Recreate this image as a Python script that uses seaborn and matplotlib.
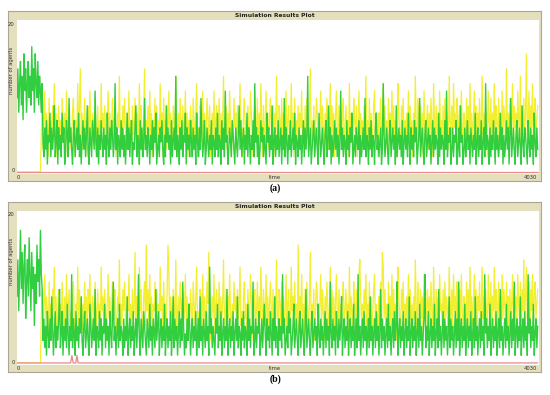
import numpy as np
import pandas as pd
import matplotlib
matplotlib.use("Agg")
import matplotlib.pyplot as plt
import seaborn as sns

t_max = 4030

green_a = [10, 14, 8, 12, 15, 9, 13, 7, 16, 11, 14, 8, 12, 15, 10, 13, 9, 17, 11, 14, 8, 16, 12, 10, 15,
           9, 13, 11, 8, 12, 4, 2, 6, 3, 7, 1, 5, 4, 8, 2, 6, 3, 5, 9, 2, 4, 7, 1, 6, 3,
           5, 2, 8, 4, 6, 1, 3, 7, 5, 2, 10, 4, 6, 3, 1, 5, 7, 2, 4, 6, 3, 8, 2, 5, 1,
           4, 7, 3, 6, 2, 5, 9, 3, 1, 6, 4, 2, 7, 5, 3, 11, 4, 2, 6, 1, 5, 3, 7, 4, 2,
           6, 3, 5, 1, 8, 4, 2, 6, 3, 7, 5, 2, 4, 12, 3, 6, 1, 5, 4, 2, 7, 3, 6, 2, 5,
           1, 4, 8, 3, 6, 2, 5, 7, 1, 4, 3, 6, 9, 2, 5, 4, 1, 7, 3, 6, 2, 4, 10, 3, 5,
           2, 6, 4, 1, 5, 3, 7, 2, 6, 4, 8, 1, 3, 5, 2, 6, 4, 7, 3, 1, 5, 2, 9, 4, 6,
           3, 5, 1, 7, 2, 4, 6, 3, 13, 2, 5, 4, 1, 6, 3, 7, 2, 5, 4, 8, 1, 6, 3, 5, 2,
           7, 4, 2, 6, 3, 5, 1, 8, 4, 2, 6, 3, 10, 5, 2, 4, 7, 1, 3, 6, 4, 2, 5, 3, 7,
           1, 5, 4, 2, 6, 3, 8, 2, 5, 4, 1, 7, 3, 6, 2, 11, 4, 5, 1, 3, 6, 4, 2, 7, 5,
           3, 1, 6, 4, 2, 5, 9, 3, 7, 2, 4, 6, 1, 5, 3, 8, 2, 6, 4, 1, 5, 3, 7, 2, 12,
           4, 6, 2, 5, 1, 3, 7, 4, 6, 2, 5, 3, 1, 8, 4, 6, 2, 5, 3, 9, 1, 4, 6, 2, 5,
           3, 7, 2, 4, 6, 1, 5, 3, 10, 2, 6, 4, 1, 5, 3, 7, 2, 4, 6, 3, 8, 1, 5, 4, 2,
           6, 3, 5, 1, 4, 7, 2, 6, 3, 5, 13, 2, 4, 6, 1, 3, 5, 7, 2, 4, 6, 3, 1, 8, 5,
           2, 4, 6, 3, 1, 5, 7, 2, 4, 9, 3, 6, 1, 5, 2, 4, 7, 3, 6, 2, 5, 1, 4, 11, 3,
           6, 2, 5, 4, 1, 7, 3, 5, 2, 6, 4, 8, 1, 3, 5, 2, 6, 4, 3, 7, 1, 5, 2, 4, 6,
           3, 10, 2, 5, 4, 1, 6, 3, 7, 2, 5, 4, 1, 6, 8, 3, 5, 2, 4, 6, 1, 3, 12, 5, 2,
           4, 6, 3, 1, 5, 7, 2, 4, 6, 3, 5, 1, 9, 2, 4, 6, 3, 5, 2, 7, 1, 4, 6, 3, 5,
           2, 8, 4, 1, 6, 3, 5, 2, 7, 4, 6, 1, 3, 5, 10, 2, 4, 6, 3, 1, 5, 7, 2, 4, 6,
           3, 5, 1, 4, 7, 2, 6, 3, 5, 4, 1, 8, 2, 6, 3, 5, 4, 1, 7, 3, 11, 2, 5, 4, 6,
           1, 3, 6, 2, 5, 4, 7, 1, 3, 6, 2, 9, 4, 5, 1, 3, 6, 2, 4, 7, 3, 5, 1, 6, 4,
           2, 5, 3, 8, 1, 4, 6, 2, 5, 3, 7, 1, 4, 6, 2, 12, 3, 5, 4, 1, 6, 2, 5, 3, 7,
           4, 1, 6, 3, 5, 2, 4, 8, 3, 6, 1, 5, 2, 4, 7, 3, 6, 1, 5, 10, 2, 4, 6, 3, 1,
           5, 7, 2, 4, 6, 3, 1, 9, 4, 2, 6, 5, 3, 1, 7, 4, 2, 6, 3, 5, 1, 8, 4, 2, 6,
           3]

yellow_a = [0, 0, 0, 0, 0, 0, 0, 0, 0, 0, 0, 0, 0, 0, 0, 0, 0, 0, 0, 0, 0, 0, 0, 0, 0,
            0, 0, 0, 5, 9, 3, 7, 11, 4, 8, 6, 2, 10, 5, 7, 3, 9, 6, 12, 4, 8, 2, 6, 9, 5,
            7, 3, 10, 6, 4, 8, 2, 11, 5, 7, 9, 3, 6, 4, 8, 10, 5, 2, 7, 6, 12, 4, 9, 14, 5,
            8, 3, 6, 10, 4, 7, 2, 9, 5, 11, 6, 3, 8, 7, 4, 10, 2, 6, 9, 5, 7, 3, 12, 6, 8,
            4, 9, 6, 2, 7, 11, 5, 8, 3, 6, 10, 4, 7, 9, 2, 5, 8, 6, 13, 3, 7, 4, 9, 6, 10,
            5, 3, 8, 6, 11, 4, 7, 2, 9, 5, 6, 10, 3, 8, 7, 4, 12, 6, 9, 2, 5, 8, 14, 3, 7,
            6, 9, 4, 11, 5, 8, 2, 7, 6, 10, 3, 9, 5, 7, 4, 12, 6, 8, 2, 10, 5, 7, 3, 9, 6,
            11, 4, 8, 6, 3, 9, 7, 5, 13, 2, 6, 8, 4, 10, 7, 3, 9, 5, 6, 11, 4, 8, 2, 7, 5,
            9, 6, 3, 10, 7, 4, 8, 12, 5, 6, 2, 9, 7, 4, 11, 5, 8, 3, 6, 10, 7, 4, 9, 2, 6,
            8, 5, 11, 3, 7, 9, 4, 6, 10, 2, 8, 5, 7, 13, 4, 6, 9, 3, 8, 5, 11, 6, 2, 7, 4,
            10, 6, 8, 3, 9, 5, 7, 12, 4, 6, 2, 8, 10, 5, 7, 3, 9, 6, 4, 11, 8, 5, 2, 7, 9,
            4, 6, 10, 3, 8, 5, 12, 7, 2, 9, 6, 4, 11, 5, 8, 3, 7, 10, 6, 4, 9, 2, 8, 5, 13,
            6, 3, 9, 7, 4, 10, 5, 8, 2, 6, 11, 4, 7, 9, 3, 5, 12, 6, 8, 2, 10, 4, 7, 5, 9,
            3, 8, 6, 11, 4, 7, 2, 9, 5, 10, 6, 3, 8, 14, 4, 7, 5, 9, 2, 6, 10, 8, 3, 5, 7,
            11, 4, 9, 6, 2, 8, 5, 10, 7, 3, 6, 12, 4, 9, 5, 8, 2, 7, 11, 6, 3, 9, 5, 7, 4,
            8, 10, 3, 6, 9, 5, 7, 2, 12, 4, 8, 6, 3, 10, 7, 5, 9, 2, 6, 11, 4, 8, 5, 7, 3,
            9, 6, 13, 4, 7, 2, 10, 5, 8, 3, 6, 9, 11, 4, 7, 5, 2, 8, 6, 10, 3, 7, 12, 5, 9,
            4, 7, 2, 10, 6, 8, 3, 11, 5, 9, 4, 7, 6, 2, 12, 8, 5, 3, 9, 6, 10, 4, 7, 5, 8,
            3, 11, 6, 9, 4, 7, 2, 8, 5, 13, 6, 3, 10, 7, 4, 9, 5, 8, 2, 11, 6, 4, 7, 9, 3,
            8, 5, 10, 6, 2, 12, 7, 4, 9, 5, 8, 3, 11, 6, 7, 4, 9, 2, 10, 5, 8, 6, 3, 13, 7,
            5, 9, 4, 12, 6, 8, 2, 10, 7, 3, 9, 5, 11, 6, 4, 8, 7, 2, 10, 5, 9, 3, 12, 6, 8,
            4, 7, 11, 5, 9, 2, 8, 6, 10, 3, 7, 13, 5, 8, 4, 9, 6, 2, 11, 7, 5, 10, 3, 8, 6,
            12, 4, 9, 7, 2, 10, 6, 8, 3, 11, 5, 9, 7, 4, 14, 6, 8, 2, 10, 5, 7, 12, 3, 9, 6,
            8, 4, 11, 7, 5, 13, 3, 9, 6, 10, 4, 8, 16, 5, 7, 11, 3, 9, 6, 12, 4, 8, 10, 5, 7,
            9]

green_b = [9, 14, 7, 12, 18, 10, 15, 8, 13, 16, 6, 11, 14, 9, 17, 12, 7, 15, 10, 13, 5, 12, 8, 16, 11,
           14, 9, 18, 12, 10, 3, 6, 2, 5, 1, 7, 4, 2, 6, 3, 9, 5, 1, 4, 7, 2, 5, 3, 6, 10,
           2, 4, 7, 1, 5, 3, 6, 2, 8, 4, 1, 5, 3, 12, 2, 6, 4, 1, 7, 3, 5, 2, 6, 4, 9,
           3, 1, 5, 7, 2, 4, 6, 3, 1, 8, 5, 2, 4, 6, 3, 10, 1, 5, 4, 2, 7, 3, 6, 1, 5,
           4, 8, 2, 6, 3, 5, 1, 7, 4, 2, 6, 11, 3, 5, 1, 4, 6, 2, 8, 3, 5, 4, 1, 6, 2,
           5, 3, 9, 1, 4, 6, 2, 5, 3, 7, 1, 4, 6, 2, 5, 12, 3, 1, 6, 4, 2, 7, 5, 3, 1,
           6, 4, 2, 8, 3, 5, 1, 6, 4, 2, 10, 3, 5, 7, 1, 4, 6, 2, 5, 3, 8, 1, 4, 6, 2,
           5, 3, 7, 1, 4, 9, 2, 6, 3, 5, 1, 4, 7, 2, 6, 3, 11, 5, 1, 4, 2, 6, 3, 8, 5,
           1, 4, 6, 2, 5, 3, 7, 1, 4, 6, 2, 9, 3, 5, 1, 6, 4, 2, 7, 3, 5, 1, 13, 4, 6,
           2, 5, 3, 1, 6, 4, 8, 2, 5, 3, 7, 1, 4, 6, 2, 5, 3, 10, 1, 4, 6, 2, 5, 3, 7,
           1, 4, 6, 3, 9, 2, 5, 4, 1, 6, 3, 7, 2, 5, 4, 1, 8, 3, 6, 2, 5, 4, 11, 1, 3,
           6, 2, 5, 4, 7, 1, 3, 6, 2, 5, 8, 4, 1, 6, 3, 5, 2, 7, 4, 1, 6, 3, 9, 2, 5,
           4, 1, 6, 3, 5, 2, 12, 4, 6, 1, 3, 5, 2, 7, 4, 6, 1, 3, 5, 8, 2, 4, 6, 3, 1,
           5, 7, 2, 4, 6, 3, 1, 5, 10, 2, 4, 6, 3, 1, 5, 7, 2, 4, 6, 3, 5, 1, 8, 4, 2,
           6, 3, 5, 1, 4, 7, 2, 6, 3, 5, 1, 11, 4, 2, 6, 3, 5, 1, 7, 4, 2, 6, 3, 5, 9,
           1, 4, 6, 2, 5, 3, 7, 1, 4, 6, 2, 5, 3, 8, 1, 4, 6, 2, 12, 3, 5, 1, 4, 6, 2,
           7, 3, 5, 1, 4, 6, 2, 9, 3, 5, 1, 4, 6, 2, 7, 3, 5, 1, 4, 10, 2, 6, 3, 5, 1,
           4, 6, 2, 8, 3, 5, 1, 4, 6, 2, 7, 3, 5, 11, 1, 4, 6, 2, 5, 3, 7, 1, 4, 6, 2,
           5, 3, 9, 1, 4, 6, 2, 5, 3, 7, 1, 4, 6, 2, 8, 3, 5, 1, 4, 6, 12, 2, 5, 3, 7,
           1, 4, 6, 2, 5, 3, 8, 1, 4, 6, 2, 10, 3, 5, 1, 4, 7, 2, 6, 3, 5, 1, 4, 9, 2,
           6, 3, 5, 1, 4, 7, 2, 6, 3, 11, 1, 4, 6, 2, 5, 3, 8, 1, 4, 6, 2, 5, 3, 7, 1,
           4, 6, 2, 9, 3, 5, 1, 4, 6, 2, 7, 3, 5, 1, 12, 4, 6, 2, 5, 3, 8, 1, 4, 6, 2,
           5, 3, 7, 1, 4, 6, 2, 10, 3, 5, 1, 4, 6, 2, 8, 3, 5, 1, 4, 7, 2, 6, 3, 11, 1,
           4, 6, 2, 5, 3, 9, 1, 4, 6, 2, 7, 3, 5, 1, 12, 4, 6, 2, 5, 3, 8, 1, 4, 6, 2,
           5]

yellow_b = [0, 0, 0, 0, 0, 0, 0, 0, 0, 0, 0, 0, 0, 0, 0, 0, 0, 0, 0, 0, 0, 0, 0, 0, 0,
            0, 0, 0, 6, 10, 4, 8, 12, 5, 9, 7, 3, 11, 6, 8, 4, 10, 7, 13, 5, 9, 3, 7, 10, 6,
            8, 4, 11, 7, 5, 9, 3, 12, 6, 8, 10, 4, 7, 5, 9, 11, 6, 3, 8, 7, 13, 5, 10, 6, 9,
            4, 8, 6, 11, 5, 9, 3, 10, 7, 12, 6, 4, 9, 8, 5, 11, 3, 7, 10, 6, 8, 4, 13, 7, 9,
            5, 10, 7, 3, 8, 12, 6, 9, 4, 7, 11, 5, 8, 10, 3, 6, 9, 7, 14, 4, 8, 5, 10, 7, 11,
            6, 4, 9, 7, 12, 5, 8, 3, 10, 6, 7, 15, 4, 9, 8, 5, 13, 7, 10, 3, 6, 9, 11, 5, 16,
            7, 10, 5, 12, 6, 9, 3, 8, 7, 11, 4, 10, 6, 8, 5, 13, 7, 9, 3, 11, 6, 8, 4, 10, 16,
            12, 5, 9, 7, 4, 10, 8, 6, 14, 3, 7, 9, 5, 11, 8, 4, 10, 6, 7, 12, 5, 9, 3, 8, 6,
            10, 7, 4, 11, 8, 5, 9, 13, 6, 7, 3, 10, 8, 5, 12, 6, 9, 4, 7, 11, 8, 15, 10, 3, 7,
            9, 6, 12, 4, 8, 10, 5, 7, 11, 3, 9, 6, 8, 14, 5, 7, 10, 4, 9, 6, 12, 7, 3, 8, 5,
            11, 7, 9, 4, 10, 6, 8, 13, 5, 7, 3, 9, 11, 6, 8, 4, 10, 7, 5, 12, 9, 6, 3, 8, 10,
            5, 7, 11, 4, 9, 6, 13, 8, 3, 10, 7, 5, 12, 6, 9, 4, 8, 11, 7, 5, 10, 3, 9, 6, 14,
            7, 4, 10, 8, 5, 11, 6, 9, 3, 7, 12, 5, 8, 10, 4, 6, 13, 7, 9, 3, 11, 5, 8, 6, 16,
            4, 9, 7, 12, 5, 8, 3, 10, 6, 11, 7, 4, 9, 15, 5, 8, 6, 10, 3, 7, 11, 9, 4, 6, 8,
            12, 5, 10, 7, 3, 9, 6, 11, 8, 4, 7, 13, 5, 10, 6, 9, 3, 8, 12, 7, 4, 10, 6, 8, 5,
            9, 11, 4, 7, 10, 6, 8, 3, 13, 5, 9, 7, 4, 11, 8, 6, 10, 3, 7, 12, 14, 9, 6, 8, 4,
            10, 7, 12, 5, 8, 3, 11, 6, 9, 4, 7, 10, 12, 5, 8, 6, 3, 9, 7, 11, 4, 15, 13, 6, 10,
            5, 8, 3, 11, 7, 9, 4, 12, 6, 10, 5, 8, 7, 3, 13, 9, 6, 4, 10, 7, 11, 5, 8, 6, 9,
            4, 12, 7, 10, 5, 8, 3, 9, 6, 14, 7, 4, 11, 8, 5, 10, 6, 9, 3, 12, 7, 5, 8, 10, 4,
            9, 6, 11, 7, 3, 13, 8, 5, 10, 6, 9, 4, 12, 7, 8, 5, 10, 3, 11, 6, 9, 7, 4, 13, 8,
            6, 10, 5, 12, 7, 9, 3, 11, 8, 4, 10, 6, 12, 7, 5, 9, 8, 3, 11, 6, 10, 4, 13, 7, 9,
            5, 8, 12, 6, 10, 3, 9, 7, 11, 4, 8, 13, 6, 9, 5, 10, 7, 3, 12, 8, 6, 11, 4, 9, 7,
            13, 5, 10, 8, 3, 11, 7, 9, 4, 12, 6, 10, 8, 5, 11, 7, 9, 3, 10, 6, 8, 12, 4, 10, 7,
            9, 5, 12, 8, 6, 11, 4, 10, 7, 14, 5, 9, 13, 6, 8, 11, 4, 10, 7, 12, 5, 9, 11, 6, 8,
            10]

red_a_time = [0, 4030]
red_a = [0, 0]
red_b_time = [0, 415, 425, 435, 455, 464, 473, 4030]
red_b = [0, 0, 1, 0, 0, 1, 0, 0]

plot_title = "Simulation Results Plot"
x_label = "time"
y_label = "number of agents"
x_ticks = [0, 4030]
y_ticks = [0, 20]
captions = ["(a)", "(b)"]

# ---------------- styling ----------------
W, H = 550, 395
fig = plt.figure(figsize=(W / 100, H / 100), dpi=100)
sns.set_style("white")
plt.rcParams['font.family'] = ['DejaVu Sans']

BEIGE = "#e4e0bd"
EDGE = "#a9a797"
GREEN = "#27cc38"
YELLOW = "#f2ee30"
RED = "#e88a8a"


def fx(px):
    return px / W


def fy(py):
    return 1 - py / H


def series_frame(values):
    return pd.DataFrame({"time": np.linspace(0, t_max, len(values)), "value": values})


def panel(top, green, yellow, red_t, red_v, caption):
    left, right = 8, 541
    bottom = top + 170
    bg = fig.add_axes([fx(left), fy(bottom), fx(right - left), (bottom - top) / H])
    bg.set_xlim(0, 1)
    bg.set_ylim(0, 1)
    bg.set_facecolor(BEIGE)
    for s in bg.spines.values():
        s.set_color(EDGE)
        s.set_linewidth(0.8)
    bg.set_xticks([])
    bg.set_yticks([])
    fig.text(fx(275), fy(top + 4.5), plot_title, ha="center", va="center",
             fontsize=4.3, fontweight="bold", color="#222222")

    p_left, p_right = 17, 539
    p_top, p_bot = top + 9, top + 163
    ax = fig.add_axes([fx(p_left), fy(p_bot), fx(p_right - p_left), (p_bot - p_top) / H])
    ax.set_facecolor("white")
    sns.lineplot(data=series_frame(yellow), x="time", y="value", ax=ax, color=YELLOW,
                 lw=0.9, estimator=None, sort=False, solid_joinstyle="miter")
    sns.lineplot(data=series_frame(green), x="time", y="value", ax=ax, color=GREEN,
                 lw=1.0, alpha=0.95, estimator=None, sort=False, solid_joinstyle="miter")
    sns.lineplot(x=red_t, y=red_v, ax=ax, color=RED, lw=0.9,
                 estimator=None, sort=False)
    ax.set_xlim(0, 4040)
    ax.set_ylim(-0.28, 20.55)
    ax.set_xticks([])
    ax.set_yticks([])
    ax.set_xlabel("")
    ax.set_ylabel("")
    for s in ax.spines.values():
        s.set_visible(False)

    y0 = p_bot - 2
    y20 = p_top + 4
    fig.text(fx(14.5), fy(y20), str(y_ticks[1]), ha="right", va="center", fontsize=3.8, color="#333333")
    fig.text(fx(14.5), fy(y0 - 1), str(y_ticks[0]), ha="right", va="center", fontsize=3.8, color="#333333")
    fig.text(fx(18), fy(p_bot + 4), str(x_ticks[0]), ha="center", va="center", fontsize=3.8, color="#333333")
    fig.text(fx(537), fy(p_bot + 4), str(x_ticks[1]), ha="right", va="center", fontsize=3.8, color="#333333")
    fig.text(fx(275), fy(p_bot + 4), x_label, ha="center", va="center", fontsize=3.8, color="#333333")
    fig.text(fx(12), fy(p_top + 50), y_label, ha="center", va="center", rotation=90,
             fontsize=3.8, color="#333333")
    fig.text(fx(275), fy(bottom + 7), caption, ha="center", va="center",
             fontsize=7, fontweight="bold", family="Liberation Serif", color="black")


panel(11, green_a, yellow_a, red_a_time, red_a, captions[0])
panel(202, green_b, yellow_b, red_b_time, red_b, captions[1])

fig.savefig("out.png", dpi=100, facecolor="white")
